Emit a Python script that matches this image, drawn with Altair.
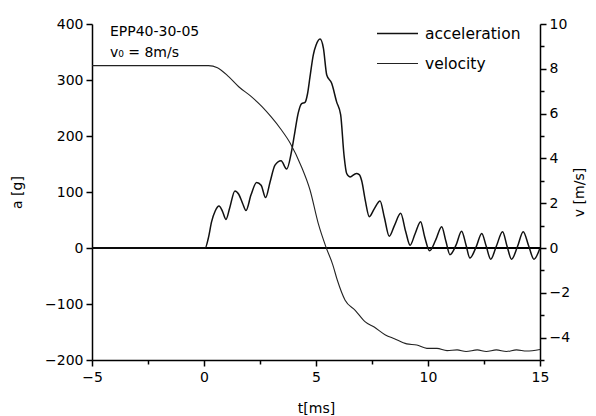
import altair as alt
import pandas as pd

# acceleration trace (t in ms, a in g)
acc_t = [-5, 0.0, 0.05, 0.19, 0.34, 0.5, 0.67, 0.82, 0.98, 1.15, 1.38, 1.55, 1.72, 1.875,
         2.1, 2.35, 2.55, 2.75, 2.95, 3.17, 3.44, 3.69, 3.92, 4.06, 4.2, 4.36, 4.51, 4.62,
         4.73, 4.88, 5.0, 5.18, 5.33, 5.48, 5.7, 5.92, 6.1, 6.25, 6.37, 6.52, 6.8, 6.93,
         7.04, 7.2, 7.38, 7.6, 7.86, 8.05, 8.27, 8.5, 8.78, 9.0, 9.2, 9.42, 9.67, 9.85,
         10.07, 10.35, 10.61, 10.8, 10.98, 11.25, 11.5, 11.7, 11.87, 12.15, 12.4, 12.6,
         12.8, 13.05, 13.33, 13.53, 13.73, 14.0, 14.25, 14.5, 14.73, 15.0]
acc_a = [0, 0, 0, 17, 47, 66, 75, 66, 51, 72, 102, 96, 80, 67,
         95, 117, 112, 90, 118, 148, 156, 141, 175, 208, 240, 258, 260, 275,
         305, 345, 362, 373, 357, 309, 294, 261, 238, 166, 133, 127, 133, 131,
         120, 85, 56, 70, 84, 55, 21, 40, 62, 30, 5, 25, 47, 20,
         -5, 15, 38, 12, -12, 5, 30, 5, -18, 2, 26, 3,
         -20, 3, 29, 3, -20, 3, 29, 3, -20, 0]

# velocity trace (t in ms, v in m/s)
vel_t = [-5, 0.2, 0.6, 1.1, 1.55, 2.1, 2.6, 3.0, 3.45, 3.85, 4.35, 4.73, 5.1, 5.45,
         5.75, 5.95, 6.3, 6.75, 7.2, 7.6, 8.1, 8.5, 9.05, 9.5, 9.95, 10.4, 10.85,
         11.3, 11.7, 12.2, 12.6, 13.05, 13.5, 13.95, 14.4, 15.0]
vel_v = [8.14, 8.14, 8.05, 7.65, 7.2, 6.77, 6.3, 5.85, 5.28, 4.68, 3.63, 2.6, 1.1, 0.03,
         -0.75, -1.43, -2.33, -2.78, -3.3, -3.53, -3.88, -4.05, -4.28, -4.33, -4.48, -4.48, -4.58,
         -4.55, -4.62, -4.55, -4.62, -4.55, -4.62, -4.55, -4.6, -4.53]

series_names = ["acceleration", "velocity"]
x_ticks = [-5, -2.5, 0, 2.5, 5, 7.5, 10, 12.5, 15]
a_ticks = [-200, -150, -100, -50, 0, 50, 100, 150, 200, 250, 300, 350, 400]
v_ticks = [-5, -4, -3, -2, -1, 0, 1, 2, 3, 4, 5, 6, 7, 8, 9, 10]

notes_text = ["EPP40-30-05", "v\u2080 = 8m/s"]
notes_t = [-4.2, -4.2]
notes_a = [385, 348]

acc_df = pd.DataFrame({"t": acc_t, "a": acc_a, "series": series_names[0]})
vel_df = pd.DataFrame({"t": vel_t, "v": vel_v, "series": series_names[1]})
notes_df = pd.DataFrame({"t": notes_t, "a": notes_a, "text": notes_text})

FONT = "DejaVu Sans"

x_enc = alt.X(
    "t:Q",
    scale=alt.Scale(domain=[-5, 15], nice=False, zero=False),
    axis=alt.Axis(
        values=x_ticks,
        labelExpr="datum.value % 5 === 0 ? datum.label : ''",
        title="t[ms]",
        tickSize={"condition": {"test": "datum.value % 5 !== 0", "value": 4}, "value": 6},
        labelPadding=4,
        titlePadding=17,
    ),
)

legend_def = alt.Legend(
    title=None,
    orient="none",
    legendX=284,
    legendY=-12,
    symbolType="stroke",
    symbolSize=1681,
    labelFontSize=15.5,
    labelFont=FONT,
    labelColor="black",
    labelOffset=6,
    rowPadding=-1,
)

color_enc = alt.Color(
    "series:N",
    scale=alt.Scale(domain=series_names, range=["#111111", "#222222"]),
    legend=legend_def,
)
sw_enc = alt.StrokeWidth(
    "series:N",
    scale=alt.Scale(domain=series_names, range=[1.5, 1.1]),
    legend=legend_def,
)

a_scale = alt.Scale(domain=[-200, 400], nice=False, zero=False)
v_scale = alt.Scale(domain=[-5, 10], nice=False, zero=False)

acc_line = alt.Chart(acc_df).mark_line(interpolate="monotone").encode(
    x=x_enc,
    y=alt.Y(
        "a:Q",
        scale=a_scale,
        axis=alt.Axis(
            values=a_ticks,
            labelExpr="datum.value % 100 === 0 ? datum.label : ''",
            title="a [g]",
            tickSize={"condition": {"test": "datum.value % 100 !== 0", "value": 4}, "value": 6},
            labelPadding=3,
            titlePadding=20,
        ),
    ),
    color=color_enc,
    strokeWidth=sw_enc,
)

zero_rule = alt.Chart(acc_df).mark_rule(color="black", strokeWidth=1.5).encode(
    y=alt.datum(0, scale=a_scale)
)

notes = alt.Chart(notes_df).mark_text(
    align="left", baseline="middle", font=FONT, fontSize=14, color="black"
).encode(x=alt.X("t:Q", scale=alt.Scale(domain=[-5, 15], nice=False)), y=alt.Y("a:Q", scale=a_scale), text="text:N")

vel_line = alt.Chart(vel_df).mark_line(interpolate="monotone").encode(
    x=x_enc,
    y=alt.Y(
        "v:Q",
        scale=v_scale,
        axis=alt.Axis(
            orient="right",
            values=v_ticks,
            labelExpr="datum.value % 2 === 0 ? datum.label : ''",
            title="v [m/s]",
            titleAngle=270,
            tickSize={"condition": {"test": "datum.value % 2 !== 0", "value": 4}, "value": 6},
            labelPadding=3,
            titlePadding=17,
        ),
    ),
    color=color_enc,
    strokeWidth=sw_enc,
)

left = alt.layer(zero_rule, acc_line, notes)
chart = alt.layer(left, vel_line).resolve_scale(y="independent").properties(
    width=448,
    height=336,
    autosize=alt.AutoSizeParams(type="none"),
    padding={"left": 84, "top": 16, "right": 48, "bottom": 56},
).configure_view(stroke=None).configure_axis(
    grid=False,
    domainColor="black",
    domainWidth=1.5,
    tickColor="black",
    tickWidth=1.5,
    labelFont=FONT,
    labelFontSize=14,
    labelColor="black",
    titleFont=FONT,
    titleFontSize=14,
    titleFontWeight="normal",
    titleColor="black",
    labelFlush=False,
    labelOverlap=False,
)

chart.save("out.html", embed_options={"renderer": "svg", "actions": False})
